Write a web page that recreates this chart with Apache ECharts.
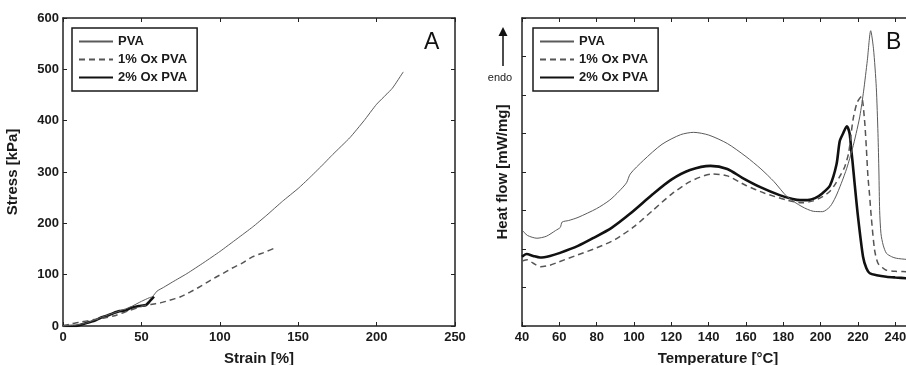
<!DOCTYPE html>
<html>
<head>
<meta charset="utf-8">
<script src="https://cdn.jsdelivr.net/npm/echarts@6/dist/echarts.min.js"></script>
<style>
html,body{margin:0;padding:0;background:#fff;}
#chart{width:906px;height:365px;}
</style>
</head>
<body>
<div id="chart"></div>
<script>
// ---------- Panel A: stress-strain ----------
const seriesNames = ['PVA', '1% Ox PVA', '2% Ox PVA'];

const strainPVA = [0, 8.5, 15, 23.5, 34, 43, 50, 55, 57, 60, 64, 70, 79, 90, 100, 111, 121, 130, 140, 150, 157, 165, 172, 183, 192, 200, 210, 217];
const stressPVA = [0, 2, 6, 16, 27, 37, 48, 55, 57, 68, 75, 86, 102, 124, 145, 170, 193, 216, 243, 268, 288, 312, 334, 367, 400, 432, 463, 495];

const strain1 = [0, 6, 12, 19, 27, 34, 42, 51, 56, 62, 68, 75, 81, 87, 93, 98, 103, 108, 114, 121, 128, 136];
const stress1 = [0, 5, 8, 12, 16, 21, 30, 39, 42, 45, 50, 57, 66, 76, 87, 96, 104, 113, 122, 135, 143, 153];

const strain2 = [0, 8, 15, 20, 24, 28, 32, 36, 40, 43, 47, 49, 53, 55, 58];
const stress2 = [0, 0, 6, 10, 16, 20, 25, 29, 30, 35, 38, 39, 41, 47, 57];

const strainTicks = [0, 250, 50];   // min, max, interval
const stressTicks = [0, 600, 100];

// ---------- Panel B: DSC ----------
const tempPVA = [40, 43, 48, 53, 58, 60.5, 61.5, 65, 70, 80, 87, 92, 96, 98, 105, 115, 125, 132, 140, 150, 160, 168, 175, 182, 190, 196, 201, 205, 208, 211, 214, 217, 219, 221, 223, 225, 226.8, 228.3, 229.8, 230.7, 231.2, 231.6, 232.3, 233.5, 235.2, 238, 240.5, 246, 250];
const heatPVA = [2.49, 2.35, 2.28, 2.33, 2.48, 2.56, 2.7, 2.74, 2.82, 3.05, 3.27, 3.5, 3.72, 3.95, 4.3, 4.72, 4.97, 5.03, 4.96, 4.74, 4.4, 4.08, 3.75, 3.36, 3.1, 2.98, 2.97, 3.1, 3.35, 3.7, 4.1, 4.6, 5.0, 5.45, 6.1, 6.9, 7.67, 7.2, 6.2, 5.0, 4.0, 3.0, 2.4, 2.1, 1.89, 1.8, 1.76, 1.73, 1.72];

const temp1 = [40, 43, 46, 50, 55, 60, 70, 80, 90, 100, 110, 120, 130, 142, 150, 160, 170, 182, 190, 196, 201, 205, 208, 211, 213, 215, 217.3, 219.5, 221.8, 223.5, 224.5, 225.3, 226.2, 227.1, 228.9, 230.7, 233, 235.2, 240, 246, 250];
const heat1 = [1.69, 1.72, 1.63, 1.54, 1.58, 1.67, 1.85, 2.03, 2.25, 2.58, 3.0, 3.42, 3.75, 3.95, 3.9, 3.65, 3.45, 3.27, 3.2, 3.25, 3.36, 3.5, 3.7, 3.95, 4.15, 4.5, 5.35, 5.8, 5.96, 5.35, 4.6, 3.9, 3.4, 2.84, 1.97, 1.63, 1.52, 1.45, 1.42, 1.41, 1.4];

const temp2 = [40, 42.5, 46, 49.7, 55, 60.4, 70, 78, 88, 98, 110, 120, 130, 141, 150, 158, 168, 178, 185, 189, 193, 197, 201, 205, 208.5, 210.2, 212, 214, 215.5, 216.4, 217, 218.2, 220, 222.7, 224.5, 226.3, 230, 235.2, 240, 246, 250];
const heat2 = [1.8, 1.87, 1.82, 1.78, 1.82, 1.9, 2.08, 2.28, 2.55, 2.92, 3.42, 3.8, 4.05, 4.16, 4.08, 3.85, 3.6, 3.4, 3.3, 3.27, 3.27, 3.32, 3.45, 3.65, 4.2, 4.8, 5.0, 5.19, 5.0, 4.57, 4.3, 3.7, 2.84, 1.8, 1.5, 1.37, 1.32, 1.28, 1.26, 1.24, 1.23];

const tempTicks = [40, 250, 20];
const heatTicks = [0, 8, 1];

const panelLetters = ['A', 'B'];
const axisNames = ['Strain [%]', 'Stress [kPa]', 'Temperature [°C]', 'Heat flow [mW/mg]'];

function pairs(xs, ys) { return xs.map((x, i) => [x, ys[i]]); }

const FONT = '"Liberation Sans", Arial, sans-serif';
const AXC = '#222';

const lineStyles = [
  { color: '#5a5a5a', width: 1, type: 'solid' },
  { color: '#555555', width: 1.5, type: [6, 4] },
  { color: '#111111', width: 2.6, type: 'solid' }
];

function mainX(gridIndex, t, name) {
  return {
    type: 'value', gridIndex, position: 'bottom',
    min: t[0], max: t[1], interval: t[2],
    name, nameLocation: 'middle', nameGap: 25,
    nameTextStyle: { fontFamily: FONT, fontWeight: 'bold', fontSize: 15, color: '#1a1a1a' },
    axisLine: { show: true, onZero: false, lineStyle: { color: AXC, width: 1.5 } },
    axisTick: { show: true, inside: true, length: 4, lineStyle: { color: AXC, width: 1 } },
    axisLabel: { show: true, margin: 5, fontFamily: FONT, fontWeight: 'bold', fontSize: 13, color: '#1a1a1a', showMaxLabel: gridIndex === 0 },
    splitLine: { show: false }
  };
}
function sideX(gridIndex, t) {
  return {
    type: 'value', gridIndex, position: 'top',
    min: t[0], max: t[1], interval: t[2],
    axisLine: { show: true, onZero: false, lineStyle: { color: AXC, width: 1.5 } },
    axisTick: { show: true, inside: true, length: 4, lineStyle: { color: AXC, width: 1 } },
    axisLabel: { show: false }, splitLine: { show: false }
  };
}
function mainY(gridIndex, t, name, gap, showLabels) {
  return {
    type: 'value', gridIndex, position: 'left',
    min: t[0], max: t[1], interval: t[2],
    name, nameLocation: 'middle', nameGap: gap, nameRotate: 90,
    nameTextStyle: { fontFamily: FONT, fontWeight: 'bold', fontSize: 15, color: '#1a1a1a' },
    axisLine: { show: true, onZero: false, lineStyle: { color: AXC, width: 1.5 } },
    axisTick: { show: true, inside: true, length: 4, lineStyle: { color: AXC, width: 1 } },
    axisLabel: { show: showLabels, margin: 4, fontFamily: FONT, fontWeight: 'bold', fontSize: 13, color: '#1a1a1a' },
    splitLine: { show: false }
  };
}
function sideY(gridIndex, t) {
  return {
    type: 'value', gridIndex, position: 'right',
    min: t[0], max: t[1], interval: t[2],
    axisLine: { show: true, onZero: false, lineStyle: { color: AXC, width: 1.5 } },
    axisTick: { show: true, inside: true, length: 4, lineStyle: { color: AXC, width: 1 } },
    axisLabel: { show: false }, splitLine: { show: false }
  };
}

function legendAt(left) {
  return {
    data: seriesNames, left, top: 28, orient: 'vertical',
    borderColor: '#1a1a1a', borderWidth: 1.5, borderRadius: 0,
    padding: [7, 10, 7, 6], itemGap: 5, itemWidth: 34, itemHeight: 13,
    itemStyle: { opacity: 0 },
    textStyle: { fontFamily: FONT, fontWeight: 'bold', fontSize: 13, color: '#1a1a1a' },
    selectedMode: false
  };
}

function mk(name, data, xi, yi, k, sm) {
  return {
    type: 'line', name, data, xAxisIndex: xi, yAxisIndex: yi,
    symbol: 'none', showSymbol: false, smooth: sm,
    lineStyle: lineStyles[k], itemStyle: { color: lineStyles[k].color },
    emphasis: { disabled: true }, silent: true, animation: false, z: 3 - k + 2
  };
}

const chart = echarts.init(document.getElementById('chart'), null, { renderer: 'canvas' });
chart.setOption({
  animation: false,
  backgroundColor: '#ffffff',
  grid: [
    { left: 63, top: 18, width: 392, height: 308, outerBoundsMode: 'none', containLabel: false },
    { left: 522, top: 18, width: 392, height: 308, outerBoundsMode: 'none', containLabel: false }
  ],
  xAxis: [
    mainX(0, strainTicks, axisNames[0]),
    sideX(0, strainTicks),
    mainX(1, tempTicks, axisNames[2]),
    sideX(1, tempTicks)
  ],
  yAxis: [
    mainY(0, stressTicks, axisNames[1], 43, true),
    sideY(0, stressTicks),
    mainY(1, heatTicks, axisNames[3], 12, false),
    sideY(1, heatTicks)
  ],
  legend: [legendAt(72), legendAt(533)],
  series: [
    mk(seriesNames[0], pairs(strainPVA, stressPVA), 0, 0, 0, 0.15),
    mk(seriesNames[1], pairs(strain1, stress1), 0, 0, 1, 0.15),
    mk(seriesNames[2], pairs(strain2, stress2), 0, 0, 2, 0.15),
    mk(seriesNames[0], pairs(tempPVA, heatPVA), 2, 2, 0, 0.25),
    mk(seriesNames[1], pairs(temp1, heat1), 2, 2, 1, 0.25),
    mk(seriesNames[2], pairs(temp2, heat2), 2, 2, 2, 0.25)
  ],
  graphic: [
    { type: 'text', left: 424, top: 31, style: { text: panelLetters[0], fontFamily: FONT, fontSize: 23, fill: '#111' } },
    { type: 'text', left: 886, top: 31, style: { text: panelLetters[1], fontFamily: FONT, fontSize: 23, fill: '#111' } },
    { type: 'line', shape: { x1: 503, y1: 31, x2: 503, y2: 66 }, style: { stroke: '#111', lineWidth: 1.5 } },
    { type: 'polygon', shape: { points: [[503, 27], [498.5, 36], [507.5, 36]] }, style: { fill: '#111' } },
    { type: 'text', x: 500, y: 78, style: { text: 'endo', fontFamily: FONT, fontSize: 11, fill: '#222', align: 'center', verticalAlign: 'middle' } }
  ]
});
</script>
</body>
</html>
